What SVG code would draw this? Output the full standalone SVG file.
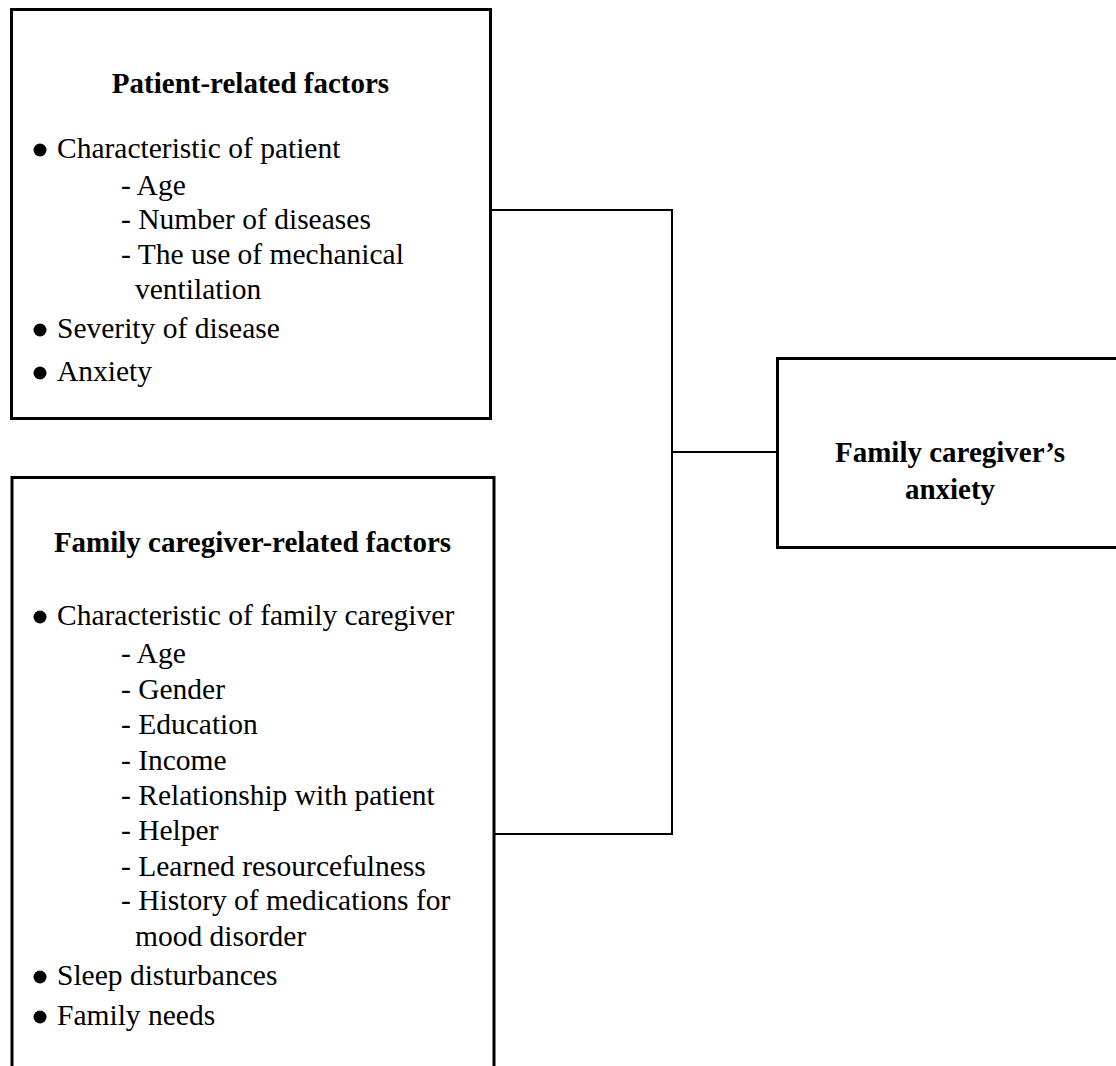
<svg xmlns="http://www.w3.org/2000/svg" width="1116" height="1066" viewBox="0 0 1116 1066">
<style>
.box{fill:#fff;stroke:#000;stroke-width:3}
.t{font-family:"Liberation Serif","Times New Roman",serif;font-size:29.5px;fill:#000}
.h{font-family:"Liberation Serif","Times New Roman",serif;font-size:29px;font-weight:bold;fill:#000}
.c{fill:none;stroke:#000;stroke-width:2}
.b{fill:#000}
</style>
<rect width="1116" height="1066" fill="#fff"/>
<g id="connectors">
<path class="c" d="M490 210 H672 V834 H494"/>
<path class="c" d="M672 452 H777"/>
</g>
<g id="patient-factors">
<rect class="box" x="11.5" y="9.5" width="479" height="409"/>
<text class="h" x="250.5" y="93" text-anchor="middle">Patient-related factors</text>
<circle class="b" cx="40" cy="150" r="6.5"/>
<text class="t" x="57" y="158">Characteristic of patient</text>
<text class="t" x="121" y="195">- Age</text>
<text class="t" x="121" y="229">- Number of diseases</text>
<text class="t" x="121" y="264">- The use of mechanical</text>
<text class="t" x="135" y="299">ventilation</text>
<circle class="b" cx="40" cy="330" r="6.5"/>
<text class="t" x="57" y="338">Severity of disease</text>
<circle class="b" cx="40" cy="373" r="6.5"/>
<text class="t" x="57" y="381">Anxiety</text>
</g>
<g id="caregiver-factors">
<rect class="box" x="12" y="477.5" width="482" height="600"/>
<text class="h" x="252.5" y="552" text-anchor="middle">Family caregiver-related factors</text>
<circle class="b" cx="40" cy="617" r="6.5"/>
<text class="t" x="57" y="625">Characteristic of family caregiver</text>
<text class="t" x="121" y="663">- Age</text>
<text class="t" x="121" y="699">- Gender</text>
<text class="t" x="121" y="734">- Education</text>
<text class="t" x="121" y="770">- Income</text>
<text class="t" x="121" y="805">- Relationship with patient</text>
<text class="t" x="121" y="840">- Helper</text>
<text class="t" x="121" y="876">- Learned resourcefulness</text>
<text class="t" x="121" y="910">- History of medications for</text>
<text class="t" x="135" y="946">mood disorder</text>
<circle class="b" cx="40" cy="977" r="6.5"/>
<text class="t" x="57" y="985">Sleep disturbances</text>
<circle class="b" cx="40" cy="1017" r="6.5"/>
<text class="t" x="57" y="1025">Family needs</text>
</g>
<g id="caregiver-anxiety">
<rect class="box" x="777.5" y="358.5" width="360" height="189"/>
<text class="h" x="950" y="462" text-anchor="middle">Family caregiver’s</text>
<text class="h" x="950" y="499" text-anchor="middle">anxiety</text>
</g>
</svg>
